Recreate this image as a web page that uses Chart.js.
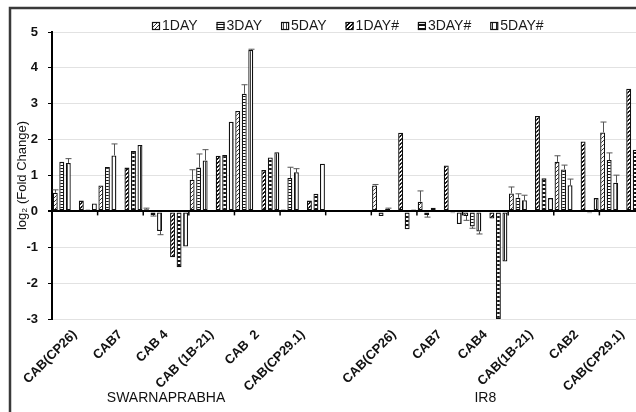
<!DOCTYPE html>
<html>
<head>
<meta charset="utf-8">
<script src="https://cdn.jsdelivr.net/npm/chart.js@4.4.1/dist/chart.umd.min.js"></script>
<style>
  html, body { margin: 0; padding: 0; width: 636px; height: 412px; overflow: hidden; background: #fff; }
  #wrap { position: relative; width: 660px; height: 412px; }
</style>
</head>
<body>
<div id="wrap"><canvas id="c"></canvas></div>
<script>
// Genes per cultivar; the empty slot separates the two cultivars.
const categories = ['CAB(CP26)', 'CAB7', 'CAB 4', 'CAB (1B-21)', 'CAB  2', 'CAB(CP29.1)', '',
                    'CAB(CP26)', 'CAB7', 'CAB4', 'CAB(1B-21)', 'CAB2', 'CAB(CP29.1)'];
const groupNames = ['SWARNAPRABHA', 'IR8'];
const groupCenters = [2, 9];          // category index under which each cultivar name sits
const seriesNames = ['1DAY', '3DAY', '5DAY', '1DAY#', '3DAY#', '5DAY#'];
const yTickValues = [-3, -2, -1, 0, 1, 2, 3, 4, 5];

// log2 fold change
const day1  = [0.52, 0.72, 0.06, 0.88, 2.80, 0.05, null, 0.72, 0.27, -0.13, 0.50, 1.38, 2.20];
const day3  = [1.38, 1.24, -0.10, 1.22, 3.28, 0.93, null, -0.13, -0.10, -0.42, 0.38, 1.17, 1.43];
const day5  = [1.35, 1.56, -0.55, 1.42, 4.50, 1.09, null, 0.07, 0.10, -0.56, 0.31, 0.73, 0.80];
const day1h = [0.30, 1.22, -1.28, 1.55, 1.15, 0.30, null, 2.19, 1.28, -0.20, 2.66, 1.95, 3.42];
const day3h = [0.05, 1.68, -1.56, 1.57, 1.50, 0.49, null, -0.50, -0.05, -3.00, 0.92, -0.05, 1.72];
const day5h = [0.22, 1.85, -0.98, 2.50, 1.65, 1.33, null, 0.05, -0.35, -1.40, 0.37, 0.37, null];

// error bar half-lengths
const err1 = [0.08, 0, 0.03, 0.28, 0, 0, null, 0.03, 0.30, 0.12, 0.18, 0.17, 0.29];
const err3 = [0, 0, 0.03, 0.38, 0.25, 0.30, null, 0, 0.06, 0.05, 0.11, 0.12, 0.20];
const err5 = [0.12, 0.32, 0.10, 0.30, 0.02, 0.10, null, 0.02, 0, 0.07, 0.14, 0.17, 0.21];

// --- hatch fills -------------------------------------------------------
function tile(w, h, paint) {
  const c = document.createElement('canvas');
  c.width = w; c.height = h;
  const g = c.getContext('2d');
  g.fillStyle = '#fff'; g.fillRect(0, 0, w, h);
  paint(g);
  return g.createPattern(c, 'repeat');
}
const hatch = {
  diagThin: tile(4, 4, g => { g.fillStyle = '#333'; for (let i = 0; i < 4; i++) g.fillRect(i, 3 - i, 1, 1); }),
  horizThin: tile(3, 3, g => { g.fillStyle = '#111'; g.fillRect(0, 0, 3, 1); }),
  vertMid: tile(3, 3, g => { g.fillStyle = '#444'; g.fillRect(1, 0, 1, 3); }),
  diagWide: tile(4, 4, g => { g.fillStyle = '#111'; for (let i = 0; i < 4; i++) { g.fillRect(i, 3 - i, 1, 1); g.fillRect((i + 1) % 4, 3 - i, 1, 1); } }),
  horizWide: tile(4, 4, g => { g.fillStyle = '#111'; g.fillRect(0, 0, 4, 2); }),
  vertWide: tile(4, 4, g => { g.fillStyle = '#222'; g.fillRect(0, 0, 1, 4); })
};

function barSet(label, data, fill, errors) {
  return {
    label, data, errors,
    backgroundColor: fill,
    borderColor: '#111',
    borderWidth: 1.3,
    borderSkipped: false
  };
}

const datasets = [
  barSet(seriesNames[0], day1, hatch.diagThin, err1),
  barSet(seriesNames[1], day3, hatch.horizThin, err3),
  barSet(seriesNames[2], day5, hatch.vertMid, err5),
  { label: '', data: categories.map(() => null), spacer: true },
  barSet(seriesNames[3], day1h, hatch.diagWide),
  barSet(seriesNames[4], day3h, hatch.horizWide),
  barSet(seriesNames[5], day5h, hatch.vertWide)
];

const FONT = "'Liberation Sans', Arial, sans-serif";

// frame, error bars, boundary ticks, cultivar names and legend
const decorations = {
  id: 'decorations',
  beforeDraw(chart) {
    const ctx = chart.ctx;
    ctx.save();
    ctx.fillStyle = '#fff';
    ctx.fillRect(0, 0, chart.width, chart.height);
    ctx.strokeStyle = '#3a3a3a';
    ctx.lineWidth = 2.5;
    ctx.strokeRect(10, 8, chart.width + 50, chart.height + 50);
    ctx.restore();
  },
  afterDatasetsDraw(chart) {
    const ctx = chart.ctx, xs = chart.scales.x, ys = chart.scales.y;
    ctx.save();
    // error bars
    ctx.strokeStyle = '#555';
    ctx.lineWidth = 1;
    chart.data.datasets.forEach((ds, di) => {
      if (!ds.errors) return;
      const meta = chart.getDatasetMeta(di);
      meta.data.forEach((bar, i) => {
        const v = ds.data[i], e = ds.errors[i];
        if (v == null || !e) return;
        const end = ys.getPixelForValue(v + (v < 0 ? -e : e));
        const x = Math.round(bar.x) + 0.5;
        ctx.beginPath();
        ctx.moveTo(x, bar.y); ctx.lineTo(x, end);
        ctx.moveTo(x - 3, end); ctx.lineTo(x + 3, end);
        ctx.stroke();
      });
    });
    // tick marks between categories on the zero line
    const y0 = ys.getPixelForValue(0);
    ctx.strokeStyle = '#000';
    ctx.lineWidth = 1.5;
    for (let i = 1; i <= categories.length; i++) {
      const x = (xs.getPixelForValue(i - 1) + xs.getPixelForValue(i)) / 2;
      ctx.beginPath(); ctx.moveTo(x, y0); ctx.lineTo(x, y0 + 4); ctx.stroke();
    }
    ctx.restore();
  },
  afterDraw(chart) {
    const ctx = chart.ctx, xs = chart.scales.x;
    ctx.save();
    // cultivar names
    ctx.fillStyle = '#111';
    ctx.font = '14px ' + FONT;
    ctx.textAlign = 'center';
    ctx.textBaseline = 'middle';
    groupNames.forEach((name, k) => ctx.fillText(name, xs.getPixelForValue(groupCenters[k]), 398));
    // legend
    ctx.font = '14px ' + FONT;
    ctx.textAlign = 'left';
    let x = 152;
    const y = 26;
    chart.data.datasets.forEach(ds => {
      if (ds.spacer) return;
      ctx.fillStyle = ds.backgroundColor;
      ctx.fillRect(x, y - 4, 8, 8);
      ctx.strokeStyle = '#111';
      ctx.lineWidth = 1.2;
      ctx.strokeRect(x + 0.5, y - 3.5, 7, 7);
      ctx.fillStyle = '#1a1a1a';
      ctx.fillText(ds.label, x + 10, y + 0.5);
      x += 10 + ctx.measureText(ds.label).width + 19;
    });
    ctx.restore();
  }
};

new Chart(document.getElementById('c'), {
  type: 'bar',
  data: { labels: categories, datasets },
  plugins: [decorations],
  options: {
    responsive: true,
    maintainAspectRatio: false,
    devicePixelRatio: 1,
    animation: false,
    layout: { padding: { top: 32, right: 15, bottom: 0, left: 0 } },
    datasets: { bar: { categoryPercentage: 1.0, barPercentage: 0.76 } },
    plugins: { legend: { display: false }, tooltip: { enabled: false } },
    scales: {
      x: {
        grid: { display: false, drawTicks: false },
        border: { display: false },
        ticks: {
          autoSkip: false, minRotation: 45, maxRotation: 45, padding: 8,
          color: '#111', font: { family: FONT, size: 13, weight: 'bold' }
        },
        afterFit(scale) { scale.height = 93; }
      },
      y: {
        min: yTickValues[0],
        max: yTickValues[yTickValues.length - 1],
        afterBuildTicks(scale) { scale.ticks = yTickValues.map(v => ({ value: v })); },
        grid: {
          color: c => (c.tick && c.tick.value === 0 ? '#000' : '#e2e2e2'),
          lineWidth: c => (c.tick && c.tick.value === 0 ? 2 : 1),
          tickColor: '#000',
          tickLength: 4
        },
        border: { display: true, color: '#000', width: 2 },
        ticks: { padding: 10, color: '#111', font: { family: FONT, size: 13, weight: 'bold' } },
        title: {
          display: true,
          text: 'log₂ (Fold Change)',
          color: '#111',
          font: { family: FONT, size: 13 },
          padding: { top: 15, bottom: 0 }
        },
        afterFit(scale) { scale.width = 52; }
      }
    }
  }
});
</script>
</body>
</html>
